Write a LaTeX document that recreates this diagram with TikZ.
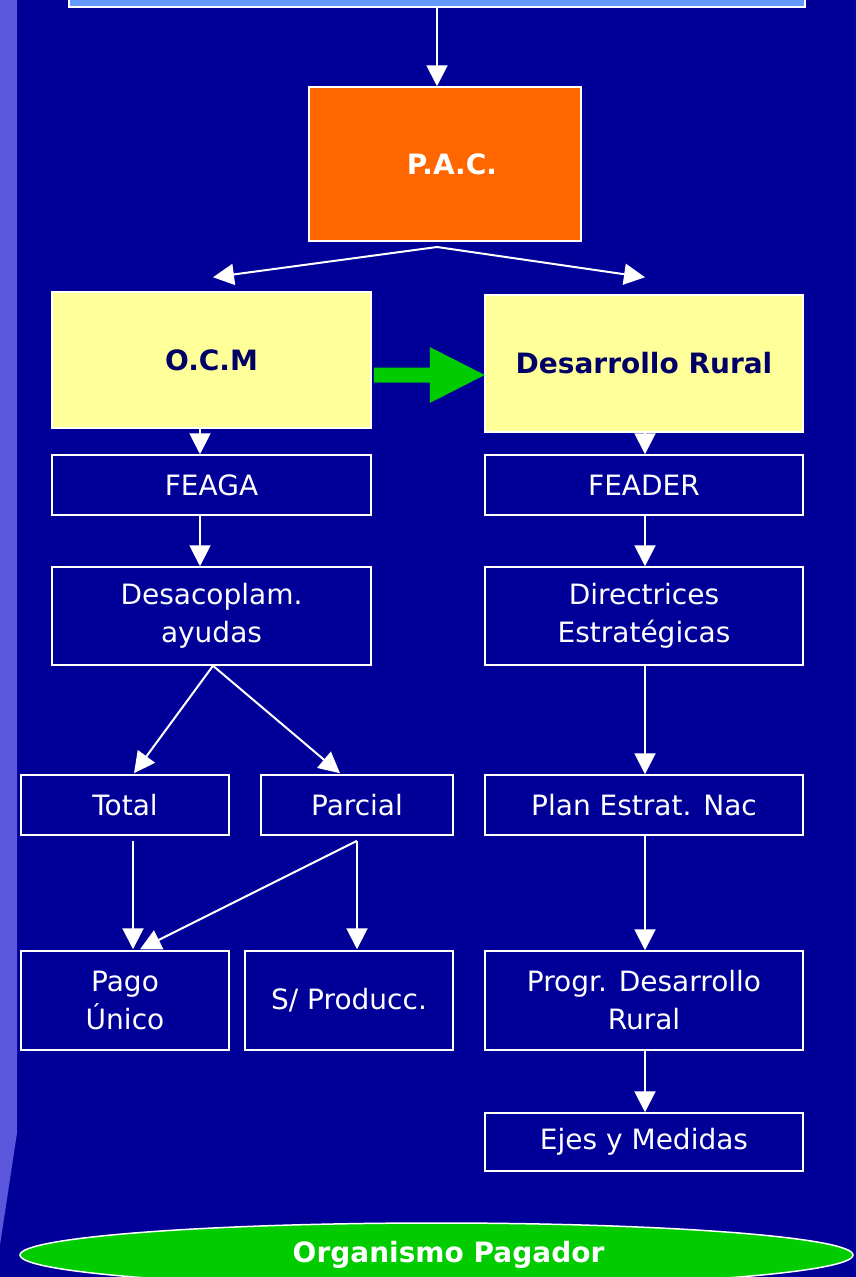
\documentclass[tikz,border=0pt]{standalone}
\usepackage{fontspec}
\setmainfont{DejaVu Sans}
\usepackage{xcolor}
\usepackage{tikz}
\usetikzlibrary{arrows.meta,shapes.geometric}
\definecolor{bgblue}{RGB}{0,0,153}
\definecolor{stripe}{RGB}{91,87,221}
\definecolor{topblue}{RGB}{102,153,255}
\definecolor{pacorange}{RGB}{255,102,0}
\definecolor{ocmyellow}{RGB}{255,255,153}
\definecolor{navytext}{RGB}{0,0,102}
\definecolor{flowgreen}{RGB}{0,204,0}

\begin{document}
\begin{tikzpicture}[x=1pt,y=1pt]
\tikzstyle{every node}+=[inner sep=0pt, font=\fontsize{28}{38}\selectfont]
\tikzstyle{flowbox}=[draw=white, line width=1.5pt, fill=bgblue, text=white, align=center, minimum width=318pt]
\tikzstyle{headbox}=[draw=white, line width=1.5pt, fill=ocmyellow, text=navytext, font=\fontsize{28}{38}\selectfont\bfseries]
\tikzstyle{link}=[draw=white, line width=2pt, -{Triangle[length=21pt,width=21pt]}]
\clip (0,0) rectangle (856,-1277);
\fill [bgblue] (0,0) rectangle (856,-1277);
\fill [stripe] (0,0) -- (17,0) -- (17,-1133) -- (0,-1245) -- cycle;
% top row
\node [draw=white, line width=1.5pt, fill=topblue, minimum width=736pt, minimum height=57pt] (top) at (437,21.5) {};
\node [draw=white, line width=1.5pt, fill=pacorange, text=white, font=\fontsize{28}{38}\selectfont\bfseries, minimum width=272pt, minimum height=154pt] (pac) at (445,-164) {\hspace*{14pt}P.A.C.};
\node [headbox, minimum width=319pt, minimum height=136pt] (ocm) at (211.5,-360) {O.C.M};
\node [headbox, minimum width=318pt, minimum height=137pt] (rural) at (644,-363.5) {Desarrollo Rural};
% left column
\node [flowbox, minimum width=319pt, minimum height=60pt] (feaga) at (211.5,-485) {FEAGA};
\node [flowbox, minimum width=319pt, minimum height=98pt] (desac) at (211.5,-616) {Desacoplam.\\ayudas};
\node [flowbox, minimum width=208pt, minimum height=60pt] (total) at (125,-805) {Total};
\node [flowbox, minimum width=192pt, minimum height=60pt] (parcial) at (357,-805) {Parcial};
\node [flowbox, minimum width=208pt, minimum height=99pt] (pago) at (125,-1000.5) {Pago\\Único};
\node [flowbox, minimum width=208pt, minimum height=99pt] (sprod) at (349,-1000.5) {S/ Producc.};
% right column
\node [flowbox, minimum height=60pt] (feader) at (644,-485) {FEADER};
\node [flowbox, minimum height=98pt] (direc) at (644,-616) {Directrices\\Estratégicas};
\node [flowbox, minimum height=60pt] (plan) at (644,-805) {Plan Estrat. Nac};
\node [flowbox, minimum height=99pt] (progr) at (644,-1000.5) {Progr. Desarrollo\\Rural};
\node [flowbox, minimum height=58pt] (ejes) at (644,-1142) {Ejes y Medidas};
\node [ellipse, draw=white, line width=1.5pt, fill=flowgreen, text=white, font=\fontsize{28}{38}\selectfont\bfseries, minimum width=833pt, minimum height=64pt] (pagador) at (436.5,-1255) {\hspace*{24pt}Organismo Pagador};
% connectors
\coordinate (split) at (437,-247);
\draw [link] (top.south) -- (top.south |- pac.north);
\draw [link] (split) -- ([xshift=1.5pt,yshift=14pt]ocm.north);
\draw [link] (split) -- ([xshift=1pt,yshift=17pt]rural.north);
\fill [flowgreen] ([xshift=2pt,yshift=-15pt]ocm.east) ++(0,7.5) -- ++(56,0) -- ++(0,20.5) -- ++(55,-28) -- ++(-55,-28) -- ++(0,20.5) -- ++(-56,0) -- cycle;
\draw [link] ([xshift=-11.5pt]ocm.south) -- ([xshift=-11.5pt]feaga.north);
\draw [link] ([xshift=-11.5pt]feaga.south) -- ([xshift=-11.5pt]desac.north);
\draw [link] ([xshift=1.5pt]desac.south) -- ([xshift=9pt,yshift=1pt]total.north);
\draw [link] ([xshift=1.5pt]desac.south) -- ([xshift=-17pt,yshift=1pt]parcial.north);
\draw [link] ([xshift=8pt,yshift=-5pt]total.south) -- ([xshift=8pt,yshift=1pt]pago.north);
\draw [link] ([yshift=-5pt]parcial.south) -- ([xshift=15pt,yshift=1pt]pago.north);
\draw [link] ([yshift=-5pt]parcial.south) -- ([xshift=8pt,yshift=1pt]sprod.north);
\draw [link] ([xshift=1pt]rural.south) -- ([xshift=1pt]feader.north);
\draw [link] ([xshift=1pt]feader.south) -- ([xshift=1pt]direc.north);
\draw [link] ([xshift=1pt]direc.south) -- ([xshift=1pt]plan.north);
\draw [link] ([xshift=1pt]plan.south) -- ([xshift=1pt]progr.north);
\draw [link] ([xshift=1pt]progr.south) -- ([xshift=1pt]ejes.north);

\end{tikzpicture}
\end{document}
